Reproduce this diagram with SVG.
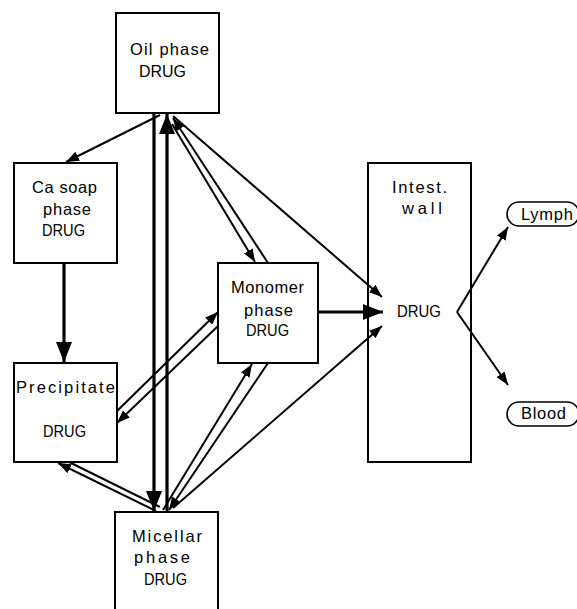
<svg xmlns="http://www.w3.org/2000/svg" width="577" height="609" viewBox="0 0 577 609">
<defs>
<marker id="ah" viewBox="0 0 13 10" refX="13" refY="5" markerWidth="13" markerHeight="10" markerUnits="userSpaceOnUse" orient="auto"><path d="M0,0 L13,5 L0,10 z" fill="#000"/></marker>
<marker id="big" viewBox="0 0 20 16" refX="20" refY="8" markerWidth="20" markerHeight="16" markerUnits="userSpaceOnUse" orient="auto"><path d="M0,0 L20,8 L0,16 z" fill="#000"/></marker>
<style>
.box{fill:#fff;stroke:#000;stroke-width:2}
.pill{fill:#fff;stroke:#000;stroke-width:1.6}
text{font-family:"Liberation Sans",Arial,sans-serif;font-size:16.5px;fill:#000}
.thin{stroke:#000;stroke-width:2;fill:none}
.thick{stroke:#000;stroke-width:3.2;fill:none}
</style>
</defs>
<rect width="577" height="609" fill="#fff"/>
<g id="connectors">
<line class="thin" x1="160" y1="115" x2="66" y2="162" marker-end="url(#ah)"/>
<line class="thick" x1="154" y1="113" x2="154" y2="511" marker-end="url(#big)"/>
<line class="thick" x1="167" y1="512" x2="167" y2="114" marker-end="url(#big)"/>
<line class="thin" x1="172" y1="124" x2="255" y2="262" marker-end="url(#ah)"/>
<line class="thin" x1="268" y1="263" x2="173" y2="118" marker-end="url(#ah)"/>
<line class="thin" x1="173" y1="116" x2="382" y2="297" marker-end="url(#ah)"/>
<line class="thick" x1="64" y1="263" x2="64" y2="362" marker-end="url(#big)"/>
<line class="thick" x1="318" y1="312" x2="383" y2="312" marker-end="url(#big)"/>
<line class="thin" x1="116" y1="412" x2="218" y2="312" marker-end="url(#ah)"/>
<line class="thin" x1="218" y1="326" x2="117" y2="423" marker-end="url(#ah)"/>
<line class="thin" x1="156" y1="511" x2="58" y2="463" marker-end="url(#ah)"/>
<line class="thin" x1="67" y1="461" x2="160" y2="507"/>
<line class="thin" x1="163" y1="510" x2="252" y2="364" marker-end="url(#ah)"/>
<line class="thin" x1="268" y1="363" x2="169" y2="510" marker-end="url(#ah)"/>
<line class="thin" x1="173" y1="508" x2="382" y2="326" marker-end="url(#ah)"/>
<line class="thin" x1="457" y1="312" x2="508" y2="227" marker-end="url(#ah)"/>
<line class="thin" x1="457" y1="312" x2="508" y2="385" marker-end="url(#ah)"/>
</g>
<g id="oil">
<rect class="box" x="116" y="13" width="103" height="100"/>
<text x="130" y="55" textLength="79" lengthAdjust="spacing">Oil phase</text>
<text x="139" y="77" textLength="47" lengthAdjust="spacingAndGlyphs">DRUG</text>
</g>
<g id="casoap">
<rect class="box" x="14" y="163" width="103" height="100"/>
<text x="32" y="193" textLength="65" lengthAdjust="spacing">Ca soap</text>
<text x="43" y="215" textLength="48" lengthAdjust="spacing">phase</text>
<text x="42" y="236" textLength="43" lengthAdjust="spacingAndGlyphs">DRUG</text>
</g>
<g id="precipitate">
<rect class="box" x="14" y="363" width="103" height="99"/>
<text x="16" y="393" textLength="99" lengthAdjust="spacing">Precipitate</text>
<text x="43" y="437" textLength="43" lengthAdjust="spacingAndGlyphs">DRUG</text>
</g>
<g id="micellar">
<rect class="box" x="115" y="512" width="103" height="110"/>
<text x="132" y="542" textLength="70" lengthAdjust="spacing">Micellar</text>
<text x="134" y="563" textLength="56" lengthAdjust="spacing">phase</text>
<text x="144" y="585" textLength="43" lengthAdjust="spacingAndGlyphs">DRUG</text>
</g>
<g id="monomer">
<rect class="box" x="218" y="263" width="100" height="100"/>
<text x="231" y="293" textLength="73" lengthAdjust="spacing">Monomer</text>
<text x="244" y="316" textLength="49" lengthAdjust="spacing">phase</text>
<text x="246" y="336" textLength="43" lengthAdjust="spacingAndGlyphs">DRUG</text>
</g>
<g id="intestwall">
<rect class="box" x="368" y="163" width="103" height="299" style="fill:none"/>
<text x="392" y="193" textLength="55" lengthAdjust="spacing">Intest.</text>
<text x="402" y="214" textLength="40" lengthAdjust="spacing">wall</text>
<text x="397" y="317" textLength="44" lengthAdjust="spacingAndGlyphs">DRUG</text>
</g>
<g id="lymph">
<rect class="pill" x="507" y="202" width="72" height="24" rx="12"/>
<text x="521" y="220" textLength="52" lengthAdjust="spacing">Lymph</text>
</g>
<g id="blood">
<rect class="pill" x="507" y="402" width="72" height="24" rx="12"/>
<text x="521" y="419" textLength="45" lengthAdjust="spacing">Blood</text>
</g>
</svg>
